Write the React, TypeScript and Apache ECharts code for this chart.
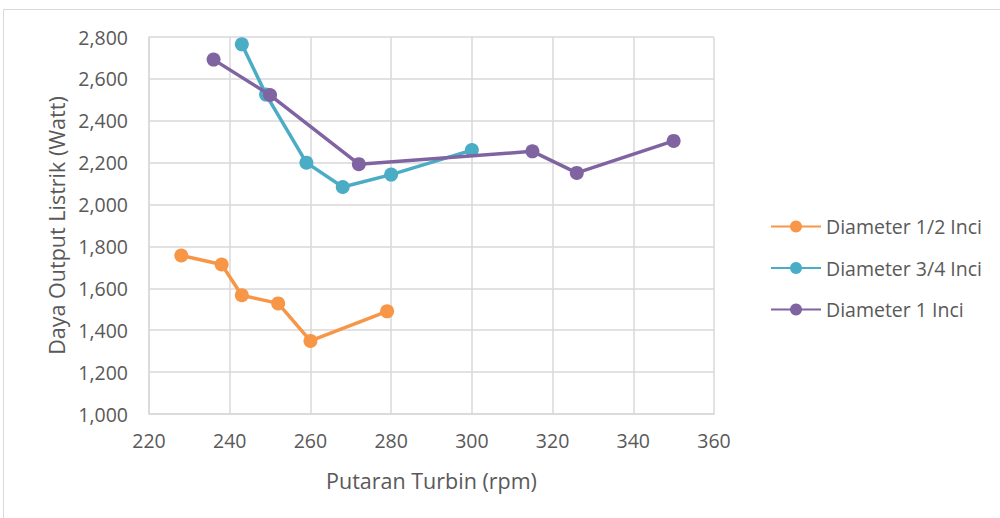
import React, { useEffect, useRef } from "react";
import * as echarts from "echarts";

const seriesNames = ["Diameter 1/2 Inci", "Diameter 3/4 Inci", "Diameter 1 Inci"];
const half: [number, number][] = [[228, 1757], [238, 1714], [243, 1567], [252, 1528], [260, 1349], [279, 1490]];
const threeQuarter: [number, number][] = [[243, 2765], [249, 2525], [259, 2200], [268, 2084], [280, 2143], [300, 2260]];
const one: [number, number][] = [[236, 2692], [250, 2523], [272, 2193], [315, 2254], [326, 2151], [350, 2304]];
const colors = ["#F79646", "#4BACC6", "#8064A2"];
const xTitle = "Putaran Turbin (rpm)";
const yTitle = "Daya Output Listrik (Watt)";

export default function App() {
  const ref = useRef<HTMLDivElement>(null);
  useEffect(() => {
    const chart = echarts.init(ref.current!, null, { renderer: "svg" });
    const font = "'Open Sans', sans-serif";
    const datas = [half, threeQuarter, one];
    chart.setOption({
      animation: false,
      textStyle: { fontFamily: font },
      graphic: [
        {
          type: "rect",
          shape: { x: 3.5, y: 9.5, width: 1010, height: 520 },
          style: { fill: "none", stroke: "#d9d9d9", lineWidth: 1 },
          silent: true,
        },
      ],
      grid: { left: 149, right: 286, top: 37, bottom: 104, containLabel: false },
      legend: {
        orient: "vertical",
        left: 770,
        top: 216.5,
        padding: 0,
        itemWidth: 50,
        itemHeight: 15,
        itemGap: 21.5,
        data: seriesNames,
        textStyle: { fontFamily: font, fontSize: 19.5, color: "#595959", lineHeight: 15 },
      },
      xAxis: {
        type: "value",
        min: 220,
        max: 360,
        interval: 20,
        name: xTitle,
        nameLocation: "middle",
        nameGap: 55,
        nameTextStyle: { fontFamily: font, fontSize: 21.5, color: "#595959" },
        axisLine: { show: true, lineStyle: { color: "#d9d9d9", width: 1.5 } },
        axisTick: { show: false },
        axisLabel: { fontFamily: font, fontSize: 19.5, color: "#595959", margin: 16.5 },
        splitLine: { show: true, lineStyle: { color: "#d9d9d9", width: 1.5 } },
      },
      yAxis: {
        type: "value",
        min: 1000,
        max: 2800,
        interval: 200,
        name: yTitle,
        nameLocation: "middle",
        nameGap: 81,
        nameTextStyle: { fontFamily: font, fontSize: 21.5, color: "#595959" },
        axisLine: { show: true, lineStyle: { color: "#d9d9d9", width: 1.5 } },
        axisTick: { show: false },
        axisLabel: {
          fontFamily: font,
          fontSize: 19.5,
          color: "#595959",
          margin: 21,
          formatter: (v: number) => v.toLocaleString("en-US"),
        },
        splitLine: { show: true, lineStyle: { color: "#d9d9d9", width: 1.5 } },
      },
      series: seriesNames.map((name, i) => ({
        name,
        type: "line",
        data: datas[i],
        symbol: "circle",
        symbolSize: 14,
        lineStyle: { color: colors[i], width: 3.5 },
        itemStyle: { color: colors[i] },
        z: 2 + i,
      })),
    });
    return () => chart.dispose();
  }, []);
  return (
    <div
      ref={ref}
      style={{ position: "fixed", left: 0, top: 0, width: 1000, height: 518, background: "#fff" }}
    />
  );
}
